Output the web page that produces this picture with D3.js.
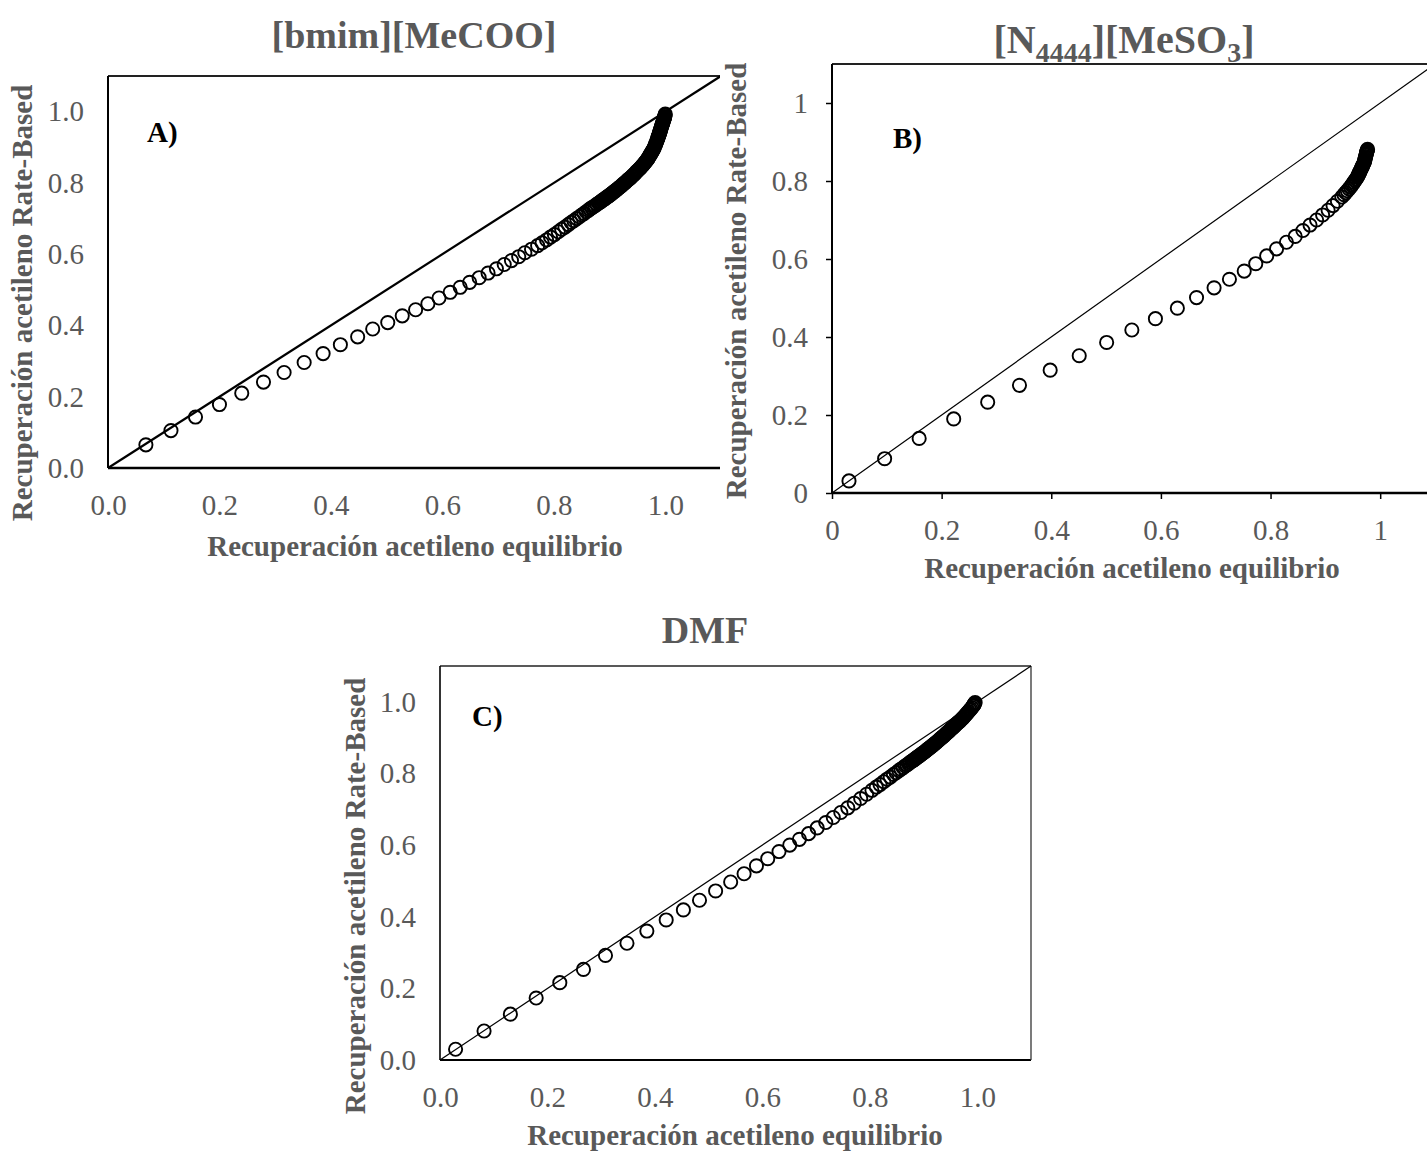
<!DOCTYPE html>
<html>
<head>
<meta charset="utf-8">
<script src="https://cdn.jsdelivr.net/npm/d3@7/dist/d3.min.js"></script>
<style>
  html, body { margin: 0; padding: 0; background: #fff; }
  svg { display: block; }
  text { font-family: "Liberation Serif", "Times New Roman", serif; }
</style>
</head>
<body>
<svg id="chart" width="1427" height="1151"></svg>
<script>
// ---------------- DATA ----------------
const tickValues = [0, 0.2, 0.4, 0.6, 0.8, 1.0];
const tickLabelsAC = ["0.0", "0.2", "0.4", "0.6", "0.8", "1.0"];
const tickLabelsB = ["0", "0.2", "0.4", "0.6", "0.8", "1"];

const titleA = "[bmim][MeCOO]";
const titleC = "DMF";
const panelLabels = ["A)", "B)", "C)"];
const xTitle = "Recuperación acetileno equilibrio";
const yTitle = "Recuperación acetileno Rate-Based";

// Panel A: [bmim][MeCOO]  — [equilibrium recovery, rate-based recovery]
const seriesA = [
  [0.068,0.065],[0.113,0.105],[0.157,0.143],[0.200,0.178],[0.240,0.210],[0.279,0.241],[0.316,0.268],[0.352,0.296],
  [0.386,0.321],[0.417,0.346],[0.448,0.368],[0.475,0.390],[0.502,0.408],[0.528,0.427],[0.552,0.444],[0.574,0.461],
  [0.594,0.477],[0.614,0.493],[0.632,0.507],[0.649,0.521],[0.666,0.534],[0.682,0.547],[0.697,0.559],[0.711,0.571],
  [0.724,0.582],[0.737,0.593],[0.748,0.604],[0.760,0.614],[0.771,0.624],
  [0.779,0.632],[0.787,0.640],[0.794,0.648],[0.801,0.655],[0.808,0.663],[0.814,0.670],[0.820,0.676],[0.826,0.683],
  [0.831,0.689],[0.836,0.694],[0.841,0.700],[0.846,0.705],[0.850,0.710],[0.854,0.714],[0.858,0.719],[0.862,0.723],
  [0.865,0.727],[0.868,0.730],[0.871,0.733],[0.874,0.736],[0.877,0.740],[0.880,0.743],[0.882,0.745],[0.884,0.747],
  [0.886,0.750],[0.888,0.752],[0.890,0.754],[0.892,0.756],[0.894,0.759],[0.896,0.761],[0.898,0.763],[0.900,0.765],
  [0.902,0.768],[0.904,0.770],[0.906,0.773],[0.908,0.775],[0.910,0.778],[0.912,0.780],[0.914,0.783],[0.916,0.785],
  [0.918,0.788],[0.920,0.790],[0.922,0.793],[0.924,0.796],[0.926,0.799],[0.928,0.801],[0.930,0.804],[0.932,0.807],
  [0.934,0.810],[0.936,0.812],[0.938,0.815],[0.940,0.818],[0.942,0.821],[0.944,0.824],[0.946,0.827],[0.948,0.831],
  [0.950,0.834],[0.952,0.837],[0.954,0.840],[0.956,0.843],[0.958,0.847],[0.960,0.850],[0.9615,0.853],[0.963,0.856],
  [0.9645,0.859],[0.966,0.862],[0.9675,0.865],[0.969,0.868],[0.970,0.871],[0.971,0.874],[0.972,0.876],[0.973,0.879],
  [0.974,0.882],[0.975,0.884],[0.976,0.887],[0.977,0.890],[0.978,0.892],[0.979,0.895],[0.980,0.898],[0.981,0.902],
  [0.982,0.906],[0.983,0.910],[0.984,0.914],[0.985,0.918],[0.986,0.922],[0.9865,0.925],[0.987,0.927],[0.9875,0.930],
  [0.988,0.932],[0.9885,0.934],[0.989,0.936],[0.9895,0.939],[0.990,0.941],[0.9905,0.944],[0.991,0.946],[0.9915,0.949],
  [0.992,0.952],[0.9925,0.954],[0.993,0.957],[0.9935,0.959],[0.994,0.962],[0.9945,0.964],[0.995,0.966],[0.9955,0.969],
  [0.996,0.971],[0.9965,0.973],[0.997,0.976],[0.9975,0.978],[0.998,0.981],[0.9985,0.983],[0.999,0.986],[0.9995,0.990],
  [1.000,0.993]
];

// Panel B: [N4444][MeSO3]
const seriesB = [
  [0.031,0.031],[0.096,0.088],[0.159,0.140],[0.222,0.190],[0.284,0.233],[0.342,0.276],[0.398,0.315],[0.451,0.352],
  [0.501,0.386],[0.547,0.418],[0.590,0.447],[0.630,0.474],[0.665,0.501],[0.697,0.526],[0.725,0.548],[0.752,0.569],
  [0.773,0.588],[0.793,0.608],[0.811,0.626],[0.829,0.643],[0.845,0.658],[0.859,0.673],[0.872,0.687],[0.884,0.700],
  [0.895,0.713],[0.905,0.725],[0.914,0.737],[0.922,0.748],[0.930,0.759],[0.934,0.765],[0.937,0.770],[0.940,0.775],
  [0.943,0.780],[0.946,0.785],[0.948,0.789],[0.950,0.793],[0.952,0.797],[0.954,0.801],[0.956,0.805],[0.958,0.809],
  [0.959,0.812],[0.960,0.815],[0.961,0.818],[0.962,0.821],[0.963,0.824],[0.964,0.827],[0.965,0.830],[0.966,0.833],
  [0.967,0.836],[0.968,0.839],[0.969,0.842],[0.970,0.845],[0.971,0.848],[0.9715,0.851],[0.972,0.854],[0.9725,0.857],
  [0.973,0.860],[0.9735,0.863],[0.974,0.866],[0.9745,0.869],[0.975,0.872],[0.9755,0.875],[0.976,0.877],[0.9765,0.879],
  [0.977,0.881]
];

// Panel C: DMF
const seriesC = [
  [0.029,0.030],[0.082,0.081],[0.131,0.128],[0.179,0.173],[0.223,0.216],[0.267,0.253],[0.308,0.292],[0.348,0.326],
  [0.385,0.360],[0.421,0.391],[0.453,0.419],[0.483,0.446],[0.513,0.472],[0.541,0.497],[0.566,0.520],[0.589,0.542],
  [0.610,0.562],[0.631,0.582],[0.651,0.600],[0.669,0.616],[0.686,0.632],[0.702,0.648],[0.718,0.663],[0.732,0.677],
  [0.746,0.691],[0.759,0.704],[0.771,0.717],[0.783,0.730],[0.794,0.742],
  [0.804,0.753],[0.812,0.762],[0.819,0.769],[0.826,0.777],[0.832,0.784],[0.838,0.790],[0.844,0.797],[0.849,0.802],
  [0.854,0.808],[0.858,0.812],[0.862,0.816],[0.866,0.821],[0.869,0.824],[0.872,0.827],[0.875,0.831],[0.878,0.834],
  [0.880,0.836],[0.882,0.838],[0.884,0.840],[0.886,0.843],[0.888,0.845],[0.890,0.847],[0.892,0.849],[0.894,0.851],
  [0.896,0.854],[0.898,0.856],[0.900,0.858],[0.902,0.860],[0.904,0.863],[0.906,0.865],[0.908,0.868],[0.910,0.870],
  [0.912,0.872],[0.914,0.875],[0.916,0.877],[0.918,0.880],[0.920,0.882],[0.922,0.885],[0.924,0.887],[0.926,0.890],
  [0.928,0.892],[0.930,0.895],[0.932,0.898],[0.934,0.900],[0.936,0.903],[0.938,0.905],[0.940,0.908],[0.942,0.911],
  [0.944,0.914],[0.946,0.916],[0.948,0.919],[0.950,0.922],[0.952,0.925],[0.954,0.927],[0.956,0.930],[0.958,0.933],
  [0.960,0.936],[0.962,0.939],[0.964,0.942],[0.966,0.944],[0.968,0.947],[0.970,0.950],[0.972,0.953],[0.974,0.956],
  [0.976,0.959],[0.978,0.963],[0.980,0.966],[0.982,0.970],[0.984,0.973],[0.986,0.977],[0.988,0.980],[0.990,0.984],
  [0.992,0.988],[0.993,0.990],[0.994,0.992],[0.995,0.995],[0.996,0.998]
];

const diagonal = [[0, 0], [1.1, 1.1]];

// ---------------- DRAW ----------------
const svg = d3.select("#chart");
const GRAY = "#595959";

function drawPanel(o) {
  const g = svg.append("g");
  const x = d3.scaleLinear().domain([0, 1.1]).range([o.left, o.right]);
  const y = d3.scaleLinear().domain([0, 1.1]).range([o.bottom, o.top]);
  const clipId = "clip" + o.id;
  svg.append("clipPath").attr("id", clipId)
    .append("rect").attr("x", o.left - 10).attr("y", o.top - 20)
    .attr("width", o.clipRight - o.left + 10).attr("height", o.bottom - o.top + 40);

  // axes (ticks + labels)
  const xa = d3.axisBottom(x).tickValues(tickValues)
    .tickFormat((d, i) => o.labels[i]).tickSize(o.tick).tickPadding(o.xPad);
  const ya = d3.axisLeft(y).tickValues(tickValues)
    .tickFormat((d, i) => o.labels[i]).tickSize(o.tick).tickPadding(o.yPad);
  const gx = g.append("g").attr("transform", `translate(0,${o.bottom})`).call(xa);
  const gy = g.append("g").attr("transform", `translate(${o.left},0)`).call(ya);
  [gx, gy].forEach(a => {
    a.select(".domain").remove();
    a.selectAll(".tick line").attr("stroke", "#000").attr("stroke-width", 1.5);
    a.selectAll(".tick text").attr("fill", GRAY).attr("font-size", 29)
      .style("font-family", '"Liberation Serif", "Times New Roman", serif');
  });

  // frame
  const frame = g.append("g").attr("clip-path", `url(#${clipId})`);
  const fw = o.frameW;
  frame.append("line").attr("x1", x(0)).attr("x2", x(1.1)).attr("y1", y(0)).attr("y2", y(0))
    .attr("stroke", "#000").attr("stroke-width", fw + 0.5);
  frame.append("line").attr("x1", x(0)).attr("x2", x(1.1)).attr("y1", y(1.1)).attr("y2", y(1.1))
    .attr("stroke", "#222").attr("stroke-width", fw);
  frame.append("line").attr("x1", x(0)).attr("x2", x(0)).attr("y1", y(0)).attr("y2", y(1.1))
    .attr("stroke", "#000").attr("stroke-width", fw);
  if (o.rightFrame) {
    frame.append("line").attr("x1", x(1.1)).attr("x2", x(1.1)).attr("y1", y(0)).attr("y2", y(1.1))
      .attr("stroke", "#333").attr("stroke-width", fw - 0.3);
  }

  // diagonal y = x
  frame.append("path").datum(diagonal)
    .attr("d", d3.line().x(d => x(d[0])).y(d => y(d[1])))
    .attr("fill", "none").attr("stroke", "#000").attr("stroke-width", o.diagW);

  // points
  frame.append("g").selectAll("circle").data(o.data).join("circle")
    .attr("cx", d => x(d[0])).attr("cy", d => y(d[1])).attr("r", 6.6)
    .attr("fill", "none").attr("stroke", "#000").attr("stroke-width", 1.9);

  // panel label
  g.append("text").attr("x", o.lab[0]).attr("y", o.lab[1])
    .attr("font-size", 29).attr("font-weight", "bold").attr("fill", "#000")
    .text(o.labText);

  // axis titles
  g.append("text").attr("x", o.xt[0]).attr("y", o.xt[1]).attr("text-anchor", "middle")
    .attr("font-size", 29).attr("font-weight", "bold").attr("fill", GRAY).text(xTitle);
  g.append("text").attr("transform", `translate(${o.yt[0]},${o.yt[1]}) rotate(-90)`)
    .attr("text-anchor", "middle")
    .attr("font-size", 29).attr("font-weight", "bold").attr("fill", GRAY).text(yTitle);
}

drawPanel({ id: "A", left: 108, right: 721, top: 76, bottom: 468, clipRight: 720,
  labels: tickLabelsAC, tick: 0, xPad: 26, yPad: 24, frameW: 2, rightFrame: false, diagW: 2.2,
  data: seriesA, lab: [147, 142], labText: panelLabels[0],
  xt: [415, 556], yt: [32, 303] });

drawPanel({ id: "B", left: 832, right: 1435, top: 64, bottom: 493, clipRight: 1440,
  labels: tickLabelsB, tick: 6, xPad: 20, yPad: 18, frameW: 2, rightFrame: false, diagW: 1.2,
  data: seriesB, lab: [893, 148], labText: panelLabels[1],
  xt: [1132, 578], yt: [746, 281] });

drawPanel({ id: "C", left: 440, right: 1031, top: 666, bottom: 1060, clipRight: 1035,
  labels: tickLabelsAC, tick: 0, xPad: 26, yPad: 24, frameW: 1.6, rightFrame: true, diagW: 1.2,
  data: seriesC, lab: [472, 726], labText: panelLabels[2],
  xt: [735, 1145], yt: [365, 896] });

// titles
svg.append("text").attr("x", 414).attr("y", 48).attr("text-anchor", "middle")
  .attr("font-size", 38).attr("font-weight", "bold").attr("fill", GRAY).text(titleA);
svg.append("text").attr("x", 705).attr("y", 643).attr("text-anchor", "middle")
  .attr("font-size", 38).attr("font-weight", "bold").attr("fill", GRAY).text(titleC);
const tB = svg.append("text").attr("x", 1124).attr("y", 53).attr("text-anchor", "middle")
  .attr("font-size", 40).attr("font-weight", "bold").attr("fill", GRAY);
tB.append("tspan").text("[N");
tB.append("tspan").attr("font-size", 28).attr("dy", 9).text("4444");
tB.append("tspan").attr("dy", -9).text("][MeSO");
tB.append("tspan").attr("font-size", 28).attr("dy", 9).text("3");
tB.append("tspan").attr("dy", -9).text("]");
</script>
</body>
</html>
